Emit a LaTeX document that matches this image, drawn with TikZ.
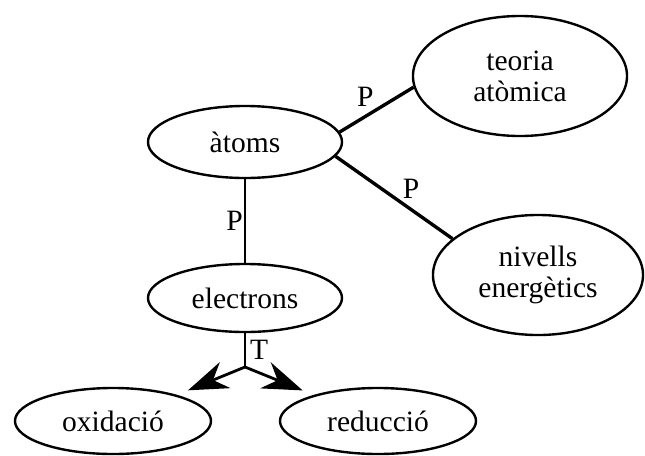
\documentclass[tikz,border=0pt]{standalone}
\usepackage{fontspec}
\setmainfont{Liberation Serif}
\usetikzlibrary{shapes.geometric,arrows.meta}

\tikzset{
  concept/.style={draw, ellipse, line width=1.7pt, inner sep=0pt, align=center,
    font=\fontsize{21}{22}\selectfont},
  link/.style={line width=2.4pt},
  lbl/.style={font=\fontsize{21}{22}\selectfont, inner sep=1pt}
}

\begin{document}
\begin{tikzpicture}[x=0.025cm, y=-0.025cm]
\useasboundingbox (0,0) rectangle (645,455);

% Draw the concept ellipses
\node[concept, minimum width=4.85cm, minimum height=1.8cm] (atoms) at (245,142) {àtoms};
\node[concept, minimum width=5.35cm, minimum height=3cm] (teoria) at (520,76) {teoria\\atòmica};
\node[concept, minimum width=5.25cm, minimum height=3cm] (nivells) at (538,275) {nivells\\energètics};
\node[concept, minimum width=4.85cm, minimum height=1.7cm] (electrons) at (245,298) {electrons};
\node[concept, minimum width=4.9cm, minimum height=1.65cm] (oxidacio) at (113,421) {oxidació};
\node[concept, minimum width=4.9cm, minimum height=1.65cm] (reduccio) at (378,421) {reducció};
\coordinate (fork) at (245,367);

% Draw the part-of links
\draw[link] (atoms.6) -- node[lbl, pos=0.5, above left] {P} (teoria.186);
\draw[link] (atoms.-9) -- node[lbl, pos=0.55, above right] {P} (nivells.157);
\draw[line width=1.3pt] (atoms) -- node[lbl, left] {P} (electrons);

% Draw the type link with the two arrows
\draw[line width=1.3pt] (electrons) -- node[lbl, right, xshift=2pt] {T} (fork);
\draw[line width=2pt, -{Stealth[length=10mm, width=7mm]}, shorten >=0.3cm] (fork) -- (oxidacio);
\draw[line width=2pt, -{Stealth[length=10mm, width=7mm]}, shorten >=0.3cm] (fork) -- (reduccio);

\end{tikzpicture}
\end{document}
